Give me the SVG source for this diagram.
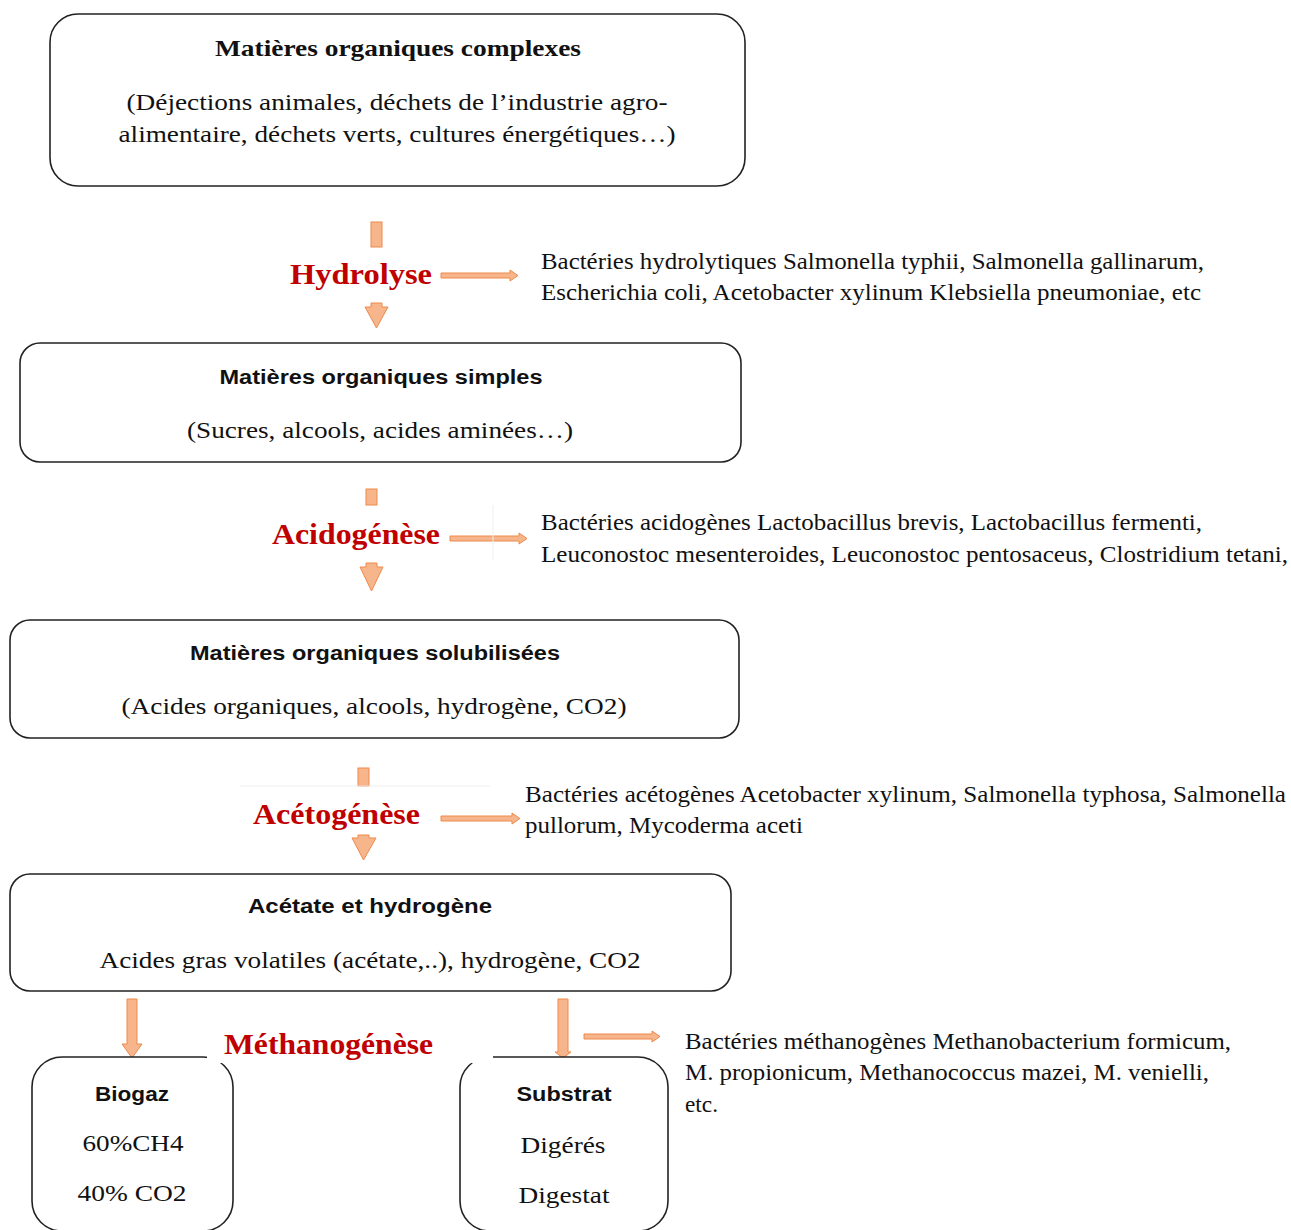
<svg xmlns="http://www.w3.org/2000/svg" width="1291" height="1230" viewBox="0 0 1291 1230">
<style>
.box{fill:#fff;stroke:#222;stroke-width:1.6}
.ti{font-family:"Liberation Sans",Arial,sans-serif;font-weight:bold;font-size:20px;fill:#111;text-anchor:middle}
.tt{font-family:"Liberation Serif","Times New Roman",serif;font-weight:bold;font-size:24px;fill:#111;text-anchor:middle}
.bd{font-family:"Liberation Serif","Times New Roman",serif;font-size:24px;fill:#111;text-anchor:middle}
.bac{font-family:"Liberation Serif","Times New Roman",serif;font-size:23px;fill:#111}
.lab{font-family:"Liberation Serif","Times New Roman",serif;font-weight:bold;font-size:29px;fill:#C00000}
.arr{fill:#F6B58A;stroke:#EE8A4C;stroke-width:1}
.faint{stroke:#eeeeee;stroke-width:1;fill:none}
</style>
<rect width="1291" height="1230" fill="#fff"/>

<g id="connectors">
  <!-- Hydrolyse -->
  <rect class="arr" x="371" y="222" width="11" height="25"/>
  <polygon class="arr" points="371,303 382,303 382,307 388,307 376.5,328 365,307 371,307"/>
  <polygon class="arr" points="441,273 510,273 510,270 518,275.5 510,281 510,278 441,278"/>
  <!-- Acidogenese -->
  <rect class="arr" x="366" y="489" width="11" height="16"/>
  <polygon class="arr" points="366,563 377,563 377,567 383,567 371.5,591 360,567 366,567"/>
  <polygon class="arr" points="450,536 519,536 519,533 527,538.5 519,544 519,541 450,541"/>
  <line class="faint" x1="493" y1="505" x2="493" y2="560"/>
  <!-- Acetogenese -->
  <rect class="arr" x="358" y="768" width="11" height="18"/>
  <line class="faint" x1="240" y1="786" x2="490" y2="786"/>
  <polygon class="arr" points="358,835 369,835 369,838 376,838 363.5,860 352,838 358,838"/>
  <polygon class="arr" points="441,816 512,816 512,813 520,818.5 512,824 512,821 441,821"/>
  <!-- Methanogenese -->
  <polygon class="arr" points="127,999 137,999 137,1044 142,1044 132,1058 122,1044 127,1044"/>
  <polygon class="arr" points="558,999 568,999 568,1052 571,1052 563,1058 555,1052 558,1052"/>
  <polygon class="arr" points="584,1034 652,1034 652,1031 660,1036.5 652,1042 652,1039 584,1039"/>
</g>

<g id="node-complexes">
  <rect class="box" x="50" y="14" width="695" height="172" rx="28"/>
  <text class="tt" x="398" y="56" textLength="366" lengthAdjust="spacingAndGlyphs">Matières organiques complexes</text>
  <text class="bd" x="397" y="110" textLength="541" lengthAdjust="spacingAndGlyphs">(Déjections animales, déchets de l’industrie agro-</text>
  <text class="bd" x="397" y="142" textLength="557" lengthAdjust="spacingAndGlyphs">alimentaire, déchets verts, cultures énergétiques…)</text>
</g>

<g id="label-hydrolyse">
  <text class="lab" x="290" y="284" textLength="142" lengthAdjust="spacingAndGlyphs">Hydrolyse</text>
  <text class="bac" x="541" y="269" textLength="663" lengthAdjust="spacingAndGlyphs">Bactéries hydrolytiques Salmonella typhii, Salmonella gallinarum,</text>
  <text class="bac" x="541" y="300" textLength="660" lengthAdjust="spacingAndGlyphs">Escherichia coli, Acetobacter xylinum Klebsiella pneumoniae, etc</text>
</g>

<g id="node-simples">
  <rect class="box" x="20" y="343" width="721" height="119" rx="20"/>
  <text class="ti" x="381" y="384" textLength="323" lengthAdjust="spacingAndGlyphs">Matières organiques simples</text>
  <text class="bd" x="380" y="438" textLength="386" lengthAdjust="spacingAndGlyphs">(Sucres, alcools, acides aminées…)</text>
</g>

<g id="label-acidogenese">
  <text class="lab" x="272" y="544" textLength="168" lengthAdjust="spacingAndGlyphs">Acidogénèse</text>
  <text class="bac" x="541" y="530" textLength="661" lengthAdjust="spacingAndGlyphs">Bactéries acidogènes Lactobacillus brevis, Lactobacillus fermenti,</text>
  <text class="bac" x="541" y="562" textLength="747" lengthAdjust="spacingAndGlyphs">Leuconostoc mesenteroides, Leuconostoc pentosaceus, Clostridium tetani,</text>
</g>

<g id="node-solubilisees">
  <rect class="box" x="10" y="620" width="729" height="118" rx="20"/>
  <text class="ti" x="375" y="660" textLength="370" lengthAdjust="spacingAndGlyphs">Matières organiques solubilisées</text>
  <text class="bd" x="374" y="714" textLength="505" lengthAdjust="spacingAndGlyphs">(Acides organiques, alcools, hydrogène, CO2)</text>
</g>

<g id="label-acetogenese">
  <text class="lab" x="253" y="824" textLength="167" lengthAdjust="spacingAndGlyphs">Acétogénèse</text>
  <text class="bac" x="525" y="802" textLength="761" lengthAdjust="spacingAndGlyphs">Bactéries acétogènes Acetobacter xylinum, Salmonella typhosa, Salmonella</text>
  <text class="bac" x="525" y="833" textLength="278" lengthAdjust="spacingAndGlyphs">pullorum, Mycoderma aceti</text>
</g>

<g id="node-acetate">
  <rect class="box" x="10" y="874" width="721" height="117" rx="20"/>
  <text class="ti" x="370" y="913" textLength="244" lengthAdjust="spacingAndGlyphs">Acétate et hydrogène</text>
  <text class="bd" x="370" y="968" textLength="541" lengthAdjust="spacingAndGlyphs">Acides gras volatiles (acétate,..), hydrogène, CO2</text>
</g>

<g id="node-biogaz">
  <rect class="box" x="32" y="1057" width="201" height="174" rx="30"/>
  <text class="ti" x="132" y="1101" textLength="74" lengthAdjust="spacingAndGlyphs">Biogaz</text>
  <text class="bd" x="133" y="1151" textLength="101" lengthAdjust="spacingAndGlyphs">60%CH4</text>
  <text class="bd" x="132" y="1201" textLength="109" lengthAdjust="spacingAndGlyphs">40% CO2</text>
</g>

<g id="node-substrat">
  <rect class="box" x="460" y="1057" width="208" height="174" rx="30"/>
  <text class="ti" x="564" y="1101" textLength="95" lengthAdjust="spacingAndGlyphs">Substrat</text>
  <text class="bd" x="563" y="1153" textLength="85" lengthAdjust="spacingAndGlyphs">Digérés</text>
  <text class="bd" x="564" y="1203" textLength="91" lengthAdjust="spacingAndGlyphs">Digestat</text>
</g>

<g id="label-methanogenese">
  <rect x="207" y="1018" width="286" height="45" fill="#fff"/>
  <text class="lab" x="224" y="1054" textLength="209" lengthAdjust="spacingAndGlyphs">Méthanogénèse</text>
  <text class="bac" x="685" y="1049" textLength="546" lengthAdjust="spacingAndGlyphs">Bactéries méthanogènes Methanobacterium formicum,</text>
  <text class="bac" x="685" y="1080" textLength="524" lengthAdjust="spacingAndGlyphs">M. propionicum, Methanococcus mazei, M. venielli,</text>
  <text class="bac" x="685" y="1112" textLength="33" lengthAdjust="spacingAndGlyphs">etc.</text>
</g>
</svg>
